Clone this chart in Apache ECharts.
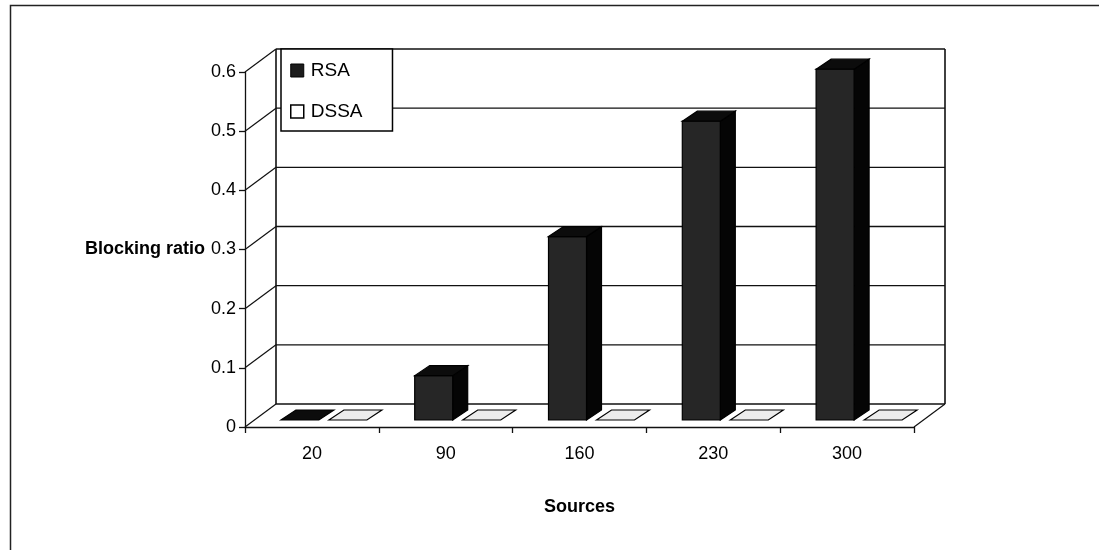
<!DOCTYPE html>
<html>
<head>
<meta charset="utf-8">
<script src="https://cdn.jsdelivr.net/npm/echarts@6/dist/echarts.min.js"></script>
<style>
  html, body { margin: 0; padding: 0; background: #fff; }
  #chart { width: 1099px; height: 550px; }
</style>
</head>
<body>
<div id="chart"></div>
<script>
// Blocking ratio per number of sources, RSA vs DSSA
const sources = ['20', '90', '160', '230', '300'];
const rsa = [0, 0.075, 0.31, 0.505, 0.593];
const dssa = [0, 0, 0, 0, 0];
const ratioTicks = [0, 0.1, 0.2, 0.3, 0.4, 0.5, 0.6];

// Oblique projection giving the columns and walls their 3D look (pixels)
const WALL_DX = 31, WALL_DY = -23;   // depth of floor and side wall
const BAR_DX = 15, BAR_DY = -10;     // depth of one column
const ROW_DX = 10, ROW_DY = -7;      // columns sit this far behind the front edge
const BAR_W = 38;
const FONT = '"Liberation Sans", Arial, sans-serif';

const chart = echarts.init(document.getElementById('chart'), null, { renderer: 'canvas' });

function seg(x1, y1, x2, y2, w) {
  return { type: 'line', shape: { x1, y1, x2, y2 }, style: { stroke: '#111', lineWidth: w || 1.4 } };
}

// Back wall gridlines, side-wall diagonals and the floor outline, one item per value tick
function renderWalls(params, api) {
  const v = api.value(1);
  const cs = params.coordSys;
  const x0 = cs.x, x1 = cs.x + cs.width;
  const y = api.coord([0, v])[1];
  const kids = [
    seg(x0, y, x0 + WALL_DX, y + WALL_DY, 1.2),
    seg(x0 + WALL_DX, y + WALL_DY, x1 + WALL_DX, y + WALL_DY)
  ];
  if (v === ratioTicks[0]) {
    const yTop = api.coord([0, ratioTicks[ratioTicks.length - 1]])[1];
    kids.push(seg(x1, y, x1 + WALL_DX, y + WALL_DY, 1.2));
    kids.push(seg(x0 + WALL_DX, y + WALL_DY, x0 + WALL_DX, yTop + WALL_DY, 1.6));
    kids.push(seg(x1 + WALL_DX, y + WALL_DY, x1 + WALL_DX, yTop + WALL_DY, 1.6));
  }
  return { type: 'group', children: kids };
}

// A column drawn as front, side and top faces
function columnRenderer(offset, colors) {
  return function (params, api) {
    const idx = api.value(0), v = api.value(1);
    const base = api.coord([idx, 0]);
    const top = api.coord([idx, v]);
    const xl = base[0] + offset + ROW_DX, xr = xl + BAR_W;
    const yb = base[1] + ROW_DY, yt = top[1] + ROW_DY;
    const stroke = { stroke: '#000', lineWidth: 1.2 };
    const kids = [];
    if (yb - yt > 0.5) {
      kids.push({ type: 'polygon', shape: { points: [[xr, yb], [xr + BAR_DX, yb + BAR_DY], [xr + BAR_DX, yt + BAR_DY], [xr, yt]] },
        style: Object.assign({ fill: colors.side }, stroke) });
      kids.push({ type: 'rect', shape: { x: xl, y: yt, width: BAR_W, height: yb - yt },
        style: Object.assign({ fill: colors.front }, stroke) });
    }
    kids.push({ type: 'polygon', shape: { points: [[xl, yt], [xl + BAR_DX, yt + BAR_DY], [xr + BAR_DX, yt + BAR_DY], [xr, yt]] },
      style: Object.assign({ fill: colors.top }, stroke) });
    return { type: 'group', children: kids };
  };
}

const option = {
  backgroundColor: '#fff',
  animation: false,
  textStyle: { fontFamily: FONT, color: '#000' },
  graphic: [{
    type: 'rect', left: 8, top: 3, z: -10,
    shape: { x: 0, y: 0, width: 1200, height: 700 },
    style: { fill: 'none', stroke: '#222', lineWidth: 1.5 }
  }],
  legend: {
    orient: 'vertical',
    left: 281, top: 49,
    padding: [12, 30, 10, 9],
    itemGap: 22,
    itemWidth: 13, itemHeight: 13,
    backgroundColor: '#fff',
    borderColor: '#000', borderWidth: 1.5,
    borderRadius: 0,
    textStyle: { fontSize: 19, fontFamily: FONT, color: '#000', padding: [0, 0, 0, 2] },
    data: [
      { name: 'RSA', icon: 'rect', itemStyle: { color: '#1c1c1c', borderColor: '#000', borderWidth: 1 } },
      { name: 'DSSA', icon: 'rect', itemStyle: { color: '#fff', borderColor: '#000', borderWidth: 1.5 } }
    ],
    z: 20
  },
  grid: { left: 245, right: 185, top: 72, bottom: 123 },
  xAxis: {
    type: 'category',
    data: sources,
    boundaryGap: true,
    name: 'Sources',
    nameLocation: 'middle',
    nameGap: 71,
    nameTextStyle: { fontSize: 18, fontWeight: 'bold', fontFamily: FONT, color: '#000' },
    axisLine: { show: true, lineStyle: { color: '#111', width: 1.3 } },
    axisTick: { show: true, length: 6, lineStyle: { color: '#111', width: 1.3 } },
    axisLabel: { fontSize: 18, margin: 18, color: '#000', fontFamily: FONT },
    splitLine: { show: false }
  },
  yAxis: {
    type: 'value',
    min: 0, max: 0.6, interval: 0.1,
    name: 'Blocking ratio',
    nameLocation: 'middle',
    nameRotate: 0,
    nameGap: 30,
    nameTextStyle: { fontSize: 18, fontWeight: 'bold', fontFamily: FONT, color: '#000', align: 'right' },
    axisLine: { show: true, lineStyle: { color: '#111', width: 1.3 } },
    axisTick: { show: true, length: 6, lineStyle: { color: '#111', width: 1.3 } },
    axisLabel: { fontSize: 18, margin: 9, color: '#000', fontFamily: FONT,
      formatter: v => (v === 0 ? '0' : v.toFixed(1)) },
    splitLine: { show: false }
  },
  series: [
    {
      type: 'custom', name: 'walls', silent: true, clip: false, z: 1,
      renderItem: renderWalls,
      data: ratioTicks.map(v => [0, v])
    },
    {
      type: 'custom', name: 'RSA', clip: false, z: 5,
      itemStyle: { color: '#1c1c1c' },
      renderItem: columnRenderer(-41, { front: '#262626', side: '#050505', top: '#0c0c0c' }),
      data: rsa.map((v, i) => [i, v])
    },
    {
      type: 'custom', name: 'DSSA', clip: false, z: 5,
      itemStyle: { color: '#fff' },
      renderItem: columnRenderer(7, { front: '#f4f4f4', side: '#d8d8d8', top: '#ececec' }),
      data: dssa.map((v, i) => [i, v])
    }
  ]
};

chart.setOption(option);
</script>
</body>
</html>
